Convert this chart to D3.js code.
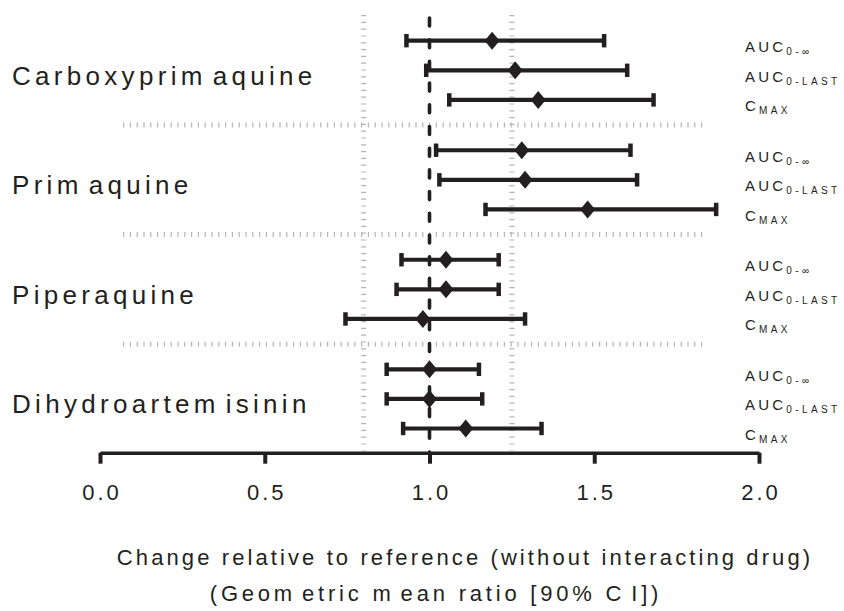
<!DOCTYPE html>
<html>
<head>
<meta charset="utf-8">
<script src="https://cdn.jsdelivr.net/npm/d3@7"></script>
<style>
  body { margin: 0; background: #fff; }
  text { font-family: "Liberation Sans", Arial, sans-serif; fill: #231f20; }
</style>
</head>
<body>
<svg id="chart" width="844" height="611"></svg>
<script>
// data
const drugs = ["Carboxyprimaquine", "Primaquine", "Piperaquine", "Dihydroartemisinin"];
const paramMain = ["AUC", "AUC", "C"];
const paramSub = ["0-\u221e", "0-LAST", "MAX"];
const gmr = [
  [1.19, 1.26, 1.33],
  [1.28, 1.29, 1.48],
  [1.05, 1.05, 0.98],
  [1.00, 1.00, 1.11]
];
const ciLow = [
  [0.93, 0.99, 1.06],
  [1.02, 1.03, 1.17],
  [0.915, 0.90, 0.745],
  [0.87, 0.87, 0.92]
];
const ciHigh = [
  [1.53, 1.60, 1.68],
  [1.61, 1.63, 1.87],
  [1.21, 1.21, 1.29],
  [1.15, 1.16, 1.34]
];
const xTicks = [0, 0.5, 1.0, 1.5, 2.0];
const refLines = [0.8, 1.25];
const xTitle = ["Change relative to reference (without interacting drug)", "(Geometric mean ratio [90% CI])"];

const ink = "#231f20";
const svg = d3.select("#chart");

const x = d3.scaleLinear().domain([0, 2]).range([100, 759]);
// each drug takes 3 slots plus a gap
const groupStep = 3.7;
const y = d3.scaleLinear().domain([0, 13.1]).range([40.7, 428.5]);
const axisY = 452.7;

let rows = [];
drugs.forEach((drug, g) => {
  for (let k = 0; k < 3; k++) {
    rows.push({ g, k, slot: g * groupStep + k, est: gmr[g][k], lo: ciLow[g][k], hi: ciHigh[g][k] });
  }
});

// the source pdf leaves a wider gap after "m" (and inside "CI"), mimic it with tspans
function gappy(sel, gap) {
  sel.each(function(str) {
    const parts = str.split(/(?<=m)|(?<=C)(?=I)/);
    const t = d3.select(this);
    parts.forEach((p, i) => {
      t.append("tspan").attr("dx", i ? gap : null).text(p);
    });
  });
}

// grey dotted guides at 0.8 / 1.25
svg.selectAll(".ref")
  .data(refLines)
  .enter().append("line")
  .attr("x1", d => x(d)).attr("x2", d => x(d))
  .attr("y1", 15).attr("y2", axisY - 2)
  .attr("stroke", "#b5b5b5")
  .attr("stroke-width", 5)
  .attr("stroke-dasharray", "1.2,5.6");

// grey separators between drugs
svg.selectAll(".sep")
  .data(d3.range(drugs.length - 1))
  .enter().append("line")
  .attr("x1", 123).attr("x2", 705)
  .attr("y1", g => y(g * groupStep + 2.85)).attr("y2", g => y(g * groupStep + 2.85))
  .attr("stroke", "#b5b5b5")
  .attr("stroke-width", 5)
  .attr("stroke-dasharray", "1.2,5.6");

// line of no effect
svg.append("line")
  .attr("x1", x(1)).attr("x2", x(1))
  .attr("y1", 18).attr("y2", axisY)
  .attr("stroke", ink)
  .attr("stroke-width", 3.6)
  .attr("stroke-linecap", "round")
  .attr("stroke-dasharray", "8,13.7");

// error bars
const bars = svg.selectAll(".bar").data(rows).enter().append("g");
bars.append("line")
  .attr("x1", d => x(d.lo)).attr("x2", d => x(d.hi))
  .attr("y1", d => y(d.slot)).attr("y2", d => y(d.slot))
  .attr("stroke", ink).attr("stroke-width", 4.2);
bars.selectAll(".cap")
  .data(d => [d.lo, d.hi].map(v => ({ v, slot: d.slot })))
  .enter().append("line")
  .attr("x1", d => x(d.v)).attr("x2", d => x(d.v))
  .attr("y1", d => y(d.slot) - 6.7).attr("y2", d => y(d.slot) + 6.7)
  .attr("stroke", ink).attr("stroke-width", 4.5);
bars.append("path")
  .attr("d", d => {
    const cx = x(d.est), cy = y(d.slot);
    return `M${cx},${cy - 9}L${cx + 7.5},${cy}L${cx},${cy + 9}L${cx - 7.5},${cy}Z`;
  })
  .attr("fill", ink);

// drug names
svg.selectAll(".drug")
  .data(drugs)
  .enter().append("text")
  .attr("x", 12)
  .attr("y", (d, g) => y(g * groupStep + 1) + 14.5)
  .attr("font-size", 26)
  .attr("letter-spacing", 4.3)
  .call(gappy, 6);

// parameter labels
const lab = svg.selectAll(".plab").data(rows).enter().append("text")
  .attr("x", 745)
  .attr("y", d => y(d.slot) + 11.5)
  .attr("font-size", 15)
  .attr("letter-spacing", 3.2);
lab.append("tspan").text(d => paramMain[d.k]);
lab.append("tspan")
  .attr("font-size", 10)
  .attr("dy", 3)
  .attr("letter-spacing", 3.4)
  .text(d => paramSub[d.k]);

// x axis
const axis = svg.append("g")
  .attr("transform", `translate(0,${axisY})`)
  .call(d3.axisBottom(x).tickValues(xTicks).tickFormat(d3.format(".1f"))
    .tickSize(11).tickSizeOuter(0).tickPadding(21));
axis.select(".domain").attr("stroke", ink).attr("stroke-width", 3.6);
axis.selectAll(".tick line").attr("stroke", ink).attr("stroke-width", 4);
axis.selectAll(".tick text")
  .attr("fill", ink)
  .attr("font-family", "Liberation Sans, Arial, sans-serif")
  .attr("font-size", 22)
  .attr("letter-spacing", 3)
  .attr("dx", 1.5);

// axis title
svg.selectAll(".xtitle")
  .data(xTitle)
  .enter().append("text")
  .attr("x", (d, i) => [465, 436][i])
  .attr("y", (d, i) => 565 + i * 36)
  .attr("text-anchor", "middle")
  .attr("font-size", 22)
  .attr("letter-spacing", (d, i) => [3.1, 3.8][i])
  .call(gappy, 6);
</script>
</body>
</html>
